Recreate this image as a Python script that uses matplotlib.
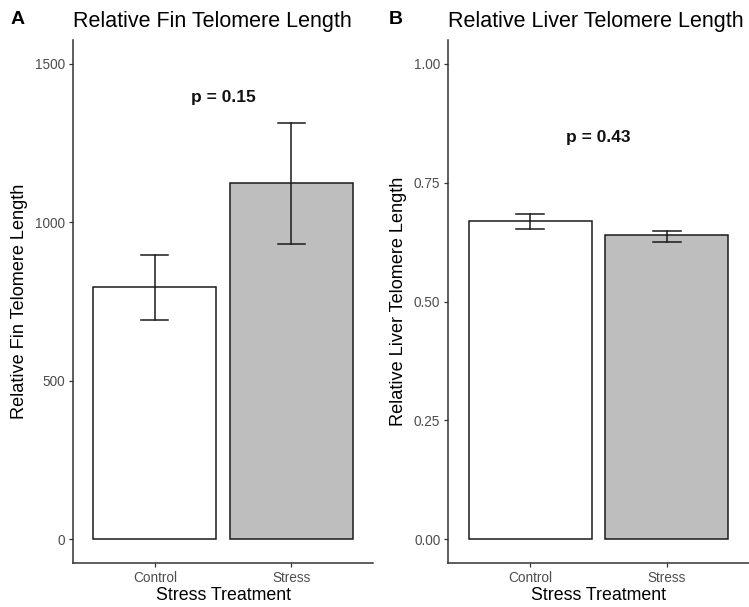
import matplotlib
matplotlib.use('Agg')
import matplotlib.pyplot as plt
import numpy as np

plt.rcParams['font.family'] = ['Liberation Sans', 'DejaVu Sans']

# data
groups = ['Control', 'Stress']
fin_mean = [797, 1125]
fin_lo = [693, 930]
fin_hi = [898, 1314]
liver_mean = [0.670, 0.639]
liver_lo = [0.653, 0.626]
liver_hi = [0.685, 0.649]
fills = ['white', '#BEBEBE']

fig = plt.figure(figsize=(7.49, 6.07), dpi=100)
axA = fig.add_axes([73 / 749, 44 / 607, 300 / 749, 523 / 607])
axB = fig.add_axes([448 / 749, 44 / 607, 301 / 749, 523 / 607])


def panel(ax, means, lo, hi, ylim, yticks, yticklabels, ylabel, ptext, py, title, letter, lx):
    x = np.arange(1, len(groups) + 1)
    ax.bar(x, means, width=0.9, color=fills, edgecolor='#1a1a1a', linewidth=1.1, zorder=2)
    for xi, l, h in zip(x, lo, hi):
        ax.plot([xi, xi], [l, h], color='#1a1a1a', lw=1.1, zorder=3)
        ax.plot([xi - 0.1, xi + 0.1], [l, l], color='#1a1a1a', lw=1.1, zorder=3)
        ax.plot([xi - 0.1, xi + 0.1], [h, h], color='#1a1a1a', lw=1.1, zorder=3)
    ax.set_xlim(0.4, 2.6)
    ax.set_ylim(*ylim)
    ax.set_xticks(x)
    ax.set_xticklabels(groups)
    ax.set_yticks(yticks)
    ax.set_yticklabels(yticklabels)
    ax.tick_params(axis='both', colors='#333333', labelcolor='#4D4D4D', labelsize=9.8,
                   length=3, width=0.9, direction='out', pad=2.5)
    for s in ['top', 'right']:
        ax.spines[s].set_visible(False)
    for s in ['left', 'bottom']:
        ax.spines[s].set_color('#333333')
        ax.spines[s].set_linewidth(1.1)
    ax.set_xlabel('Stress Treatment', fontsize=12.8, color='black', labelpad=2)
    ax.set_ylabel(ylabel, fontsize=13.1, color='black', labelpad=5)
    ax.text(1.5, py, ptext, ha='center', va='center', fontsize=12.5, fontweight='bold', color='#111111')
    ax.set_title(title, loc='left', fontsize=15.5, pad=9)
    fig.text(lx / 749, 1 - 20 / 607, letter, fontsize=14, fontweight='bold', ha='left', va='center')


panel(axA, fin_mean, fin_lo, fin_hi, (-75, 1575), [0, 500, 1000, 1500],
      ['0', '500', '1000', '1500'], 'Relative Fin Telomere Length', 'p = 0.15', 1393,
      'Relative Fin Telomere Length', 'A', 11)
panel(axB, liver_mean, liver_lo, liver_hi, (-0.05, 1.05), [0, 0.25, 0.5, 0.75, 1.0],
      ['0.00', '0.25', '0.50', '0.75', '1.00'], 'Relative Liver Telomere Length', 'p = 0.43', 0.845,
      'Relative Liver Telomere Length', 'B', 389)

fig.savefig('out.png', dpi=100)
